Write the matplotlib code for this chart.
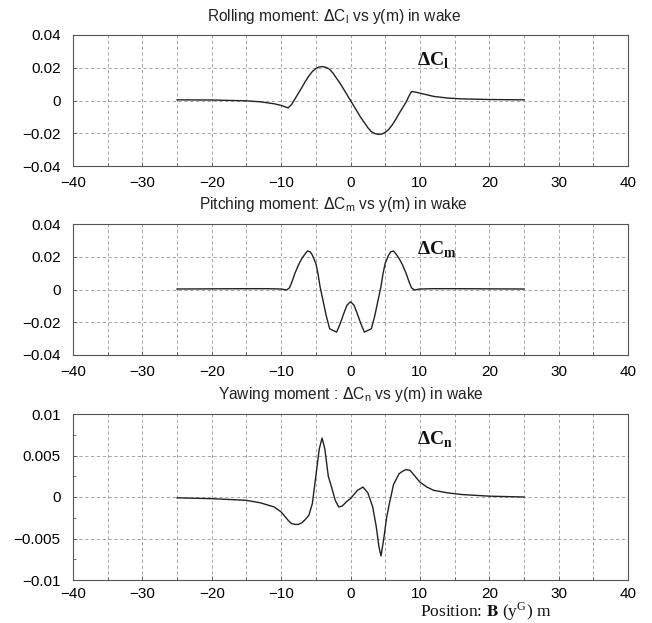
import numpy as np
import matplotlib
matplotlib.use("Agg")
import matplotlib.pyplot as plt
from matplotlib.ticker import MultipleLocator

plt.rcParams['font.family'] = ['Liberation Sans', 'DejaVu Sans']

# rolling moment dCl
roll_x = [-25, -20, -15, -13, -11, -10, -9, -8.5, -8, -7.5, -7, -6.5, -6, -5.5, -5, -4.5,
          -4, -3.5, -3, -2.5, -2, -1.5, -1, -0.5, 0, 0.5, 1, 1.5, 2, 2.5, 3, 3.5, 4,
          4.5, 5, 5.5, 6, 6.5, 7, 7.5, 8, 8.4, 8.8, 9.5, 10, 11, 12, 14, 16, 18, 20, 25]
roll_y = [0.0004, 0.0003, -0.0002, -0.0008, -0.002, -0.003, -0.0045, -0.0025, 0.001,
          0.0045, 0.008, 0.0117, 0.015, 0.0177, 0.0195, 0.0205, 0.0207, 0.0202, 0.019,
          0.0166, 0.0135, 0.0105, 0.007, 0.0035, 0.0, -0.0035, -0.007, -0.0105, -0.0135,
          -0.0166, -0.019, -0.0202, -0.0207, -0.0205, -0.0195, -0.0177, -0.015, -0.0117,
          -0.008, -0.0045, -0.001, 0.0025, 0.0055, 0.005, 0.0045, 0.0035, 0.0025,
          0.0015, 0.001, 0.0008, 0.0006, 0.0004]

# pitching moment dCm
pitch_x = [-25, -20, -15, -12, -10, -9.2, -8.8, -8.5, -8, -7.5, -7, -6.5, -6.2, -5.8, -5.5,
           -5, -4.7, -4.4, -4, -3.5, -3, -2.5, -2, -1.5, -1, -0.5, 0, 0.5, 1, 1.5, 2,
           2.5, 3, 3.5, 4, 4.4, 4.7, 5, 5.5, 5.8, 6.2, 6.5, 7, 7.5, 8, 8.5, 8.8, 9.2,
           10, 12, 15, 20, 25]
pitch_y = [0.0003, 0.0004, 0.0005, 0.0005, 0.0003, -0.0003, 0.001, 0.004, 0.01, 0.015,
           0.019, 0.022, 0.0235, 0.023, 0.021, 0.016, 0.01, 0.002, -0.006, -0.016,
           -0.024, -0.025, -0.026, -0.021, -0.015, -0.0095, -0.0075, -0.0095, -0.015,
           -0.021, -0.026, -0.025, -0.024, -0.016, -0.006, 0.002, 0.01, 0.016, 0.021,
           0.023, 0.0235, 0.022, 0.019, 0.015, 0.01, 0.004, 0.001, -0.0003, 0.0003,
           0.0005, 0.0005, 0.0004, 0.0003]

# yawing moment dCn
yaw_x = [-25, -20, -15, -13, -11, -10, -9, -8.5, -8, -7.5, -7, -6.5, -6, -5.5, -5, -4.5,
         -4.1, -3.7, -3.2, -2.7, -2.2, -1.7, -1.2, -0.5, 0, 0.5, 1.0, 1.8, 2.5, 3.2,
         3.7, 4.1, 4.4, 4.8, 5.2, 5.6, 6.2, 7, 7.5, 8, 8.6, 9.3, 10, 11, 12, 14, 16,
         18, 20, 25]
yaw_y = [-0.0001, -0.0002, -0.0004, -0.0007, -0.0012, -0.0018, -0.0028, -0.0032,
         -0.0033, -0.0033, -0.0031, -0.0027, -0.0022, -0.0008, 0.0025, 0.0058, 0.0071,
         0.0058, 0.0025, 0.0011, -0.0004, -0.0012, -0.0011, -0.0005, -0.0002, 0.0003,
         0.0008, 0.0012, 0.0005, -0.0012, -0.0035, -0.006, -0.0071, -0.005, -0.0025,
         -0.0008, 0.0015, 0.0028, 0.0031, 0.0033, 0.0032, 0.0025, 0.0018, 0.0012,
         0.0008, 0.0005, 0.0003, 0.0002, 0.0001, 0.0]

xticks = [-40, -30, -20, -10, 0, 10, 20, 30, 40]
xticklabels = ['\u221240', '\u221230', '\u221220', '\u221210', '0', '10', '20', '30', '40']
yticks_big = [-0.04, -0.02, 0, 0.02, 0.04]
yticklabels_big = ['\u22120.04', '\u22120.02', '0', '0.02', '0.04']
yticks_small = [-0.01, -0.005, 0, 0.005, 0.01]
yticklabels_small = ['\u22120.01', '\u22120.005', '0', '0.005', '0.01']

titles = [r'Rolling moment: $\Delta$C$_\mathregular{l}$ vs y(m) in wake',
          r'Pitching moment: $\Delta$C$_\mathregular{m}$ vs y(m) in wake',
          r'Yawing moment : $\Delta$C$_\mathregular{n}$ vs y(m) in wake']
tags = [r'ΔC$_\mathregular{l}$', r'ΔC$_\mathregular{m}$', r'ΔC$_\mathregular{n}$']

fig = plt.figure(figsize=(6.52, 6.23), dpi=100)
W, H = 652, 623
left, right = 73, 628
boxes = [(35, 166), (224, 355), (414, 580)]
title_x = [0.47, 0.47, 0.50]
tag_y = [0.021, 0.021, 0.0063]

series = [(roll_x, roll_y), (pitch_x, pitch_y), (yaw_x, yaw_y)]
for i, (top, bot) in enumerate(boxes):
    ax = fig.add_axes([left / W, 1 - bot / H, (right - left) / W, (bot - top) / H])
    xs, ys = series[i]
    ax.plot(xs, ys, color='#222222', lw=1.0)
    ax.set_xlim(-40, 40)
    ax.set_xticks(xticks)
    ax.set_xticklabels(xticklabels)
    ax.xaxis.set_minor_locator(MultipleLocator(5))
    if i < 2:
        ax.set_ylim(-0.04, 0.04)
        ax.set_yticks(yticks_big)
        ax.set_yticklabels(yticklabels_big)
    else:
        ax.set_ylim(-0.01, 0.01)
        ax.set_yticks(yticks_small)
        ax.set_yticklabels(yticklabels_small)
        ax.yaxis.set_minor_locator(MultipleLocator(0.0025))
    ax.grid(True, which='major', ls=(0, (4, 3)), color='#999999', lw=0.6)
    ax.grid(True, which='minor', axis='x', ls=(0, (4, 3)), color='#999999', lw=0.6)
    ax.tick_params(which='both', direction='in', length=3, width=0.6, color='#555555',
                   labelsize=11)
    ax.tick_params(axis='x', which='major', pad=5 if i == 2 else 7)
    ax.tick_params(axis='y', which='major', pad=9)
    ax.tick_params(which='minor', length=2)
    for s in ax.spines.values():
        s.set_color('#555555')
        s.set_linewidth(0.8)
    ax.text(title_x[i], 1 + 19 / (bot - top), titles[i], transform=ax.transAxes,
            ha='center', va='center', fontsize=11.2, color='#222222')
    ax.text(9.6, tag_y[i], tags[i], ha='left', va='baseline', fontsize=14,
            family='Liberation Serif', weight='bold', color='#111111')

fig.text(420 / W, 1 - 612 / H, r'Position: $\mathbf{B}$ (y$^\mathregular{G}$) m',
         ha='left', va='center', fontsize=12.5, family='Liberation Serif',
         math_fontfamily='stix', color='#111111')

fig.savefig('out.png', dpi=100)
